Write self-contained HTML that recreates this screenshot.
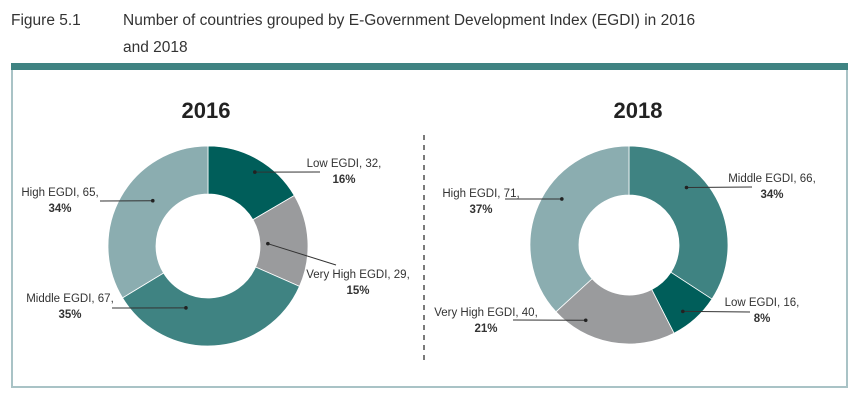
<!DOCTYPE html>
<html><head><meta charset="utf-8">
<style>
body{margin:0;background:#fff;width:858px;height:402px;overflow:hidden;font-family:"Liberation Sans",sans-serif;}
svg text{font-family:"Liberation Sans",sans-serif;}
</style></head>
<body>
<svg width="858" height="402" viewBox="0 0 858 402" xmlns="http://www.w3.org/2000/svg">
<text x="11" y="25" font-size="15.5" fill="#333">Figure 5.1</text>
<text x="123" y="25" font-size="15.5" fill="#333">Number of countries grouped by E-Government Development Index (EGDI) in 2016</text>
<text x="123" y="52" font-size="15.5" fill="#333">and 2018</text>
<rect x="12" y="67" width="835" height="320" fill="none" stroke="#a9c3c6" stroke-width="2"/>
<rect x="11" y="63" width="837" height="7" fill="#3f8382"/>
<line x1="424" y1="135" x2="424" y2="362" stroke="#222" stroke-width="1.2" stroke-dasharray="5,5"/>
<text x="206" y="118" font-size="22" font-weight="bold" text-anchor="middle" fill="#222">2016</text>
<text x="638" y="118" font-size="22" font-weight="bold" text-anchor="middle" fill="#222">2018</text>
<g id="d2016"></g><g id="d2018"></g>
</svg>
<script>
const categories2016 = ["Low EGDI","Very High EGDI","Middle EGDI","High EGDI"];
const values2016 = [32,29,67,65];
const pct2016 = ["16%","15%","35%","34%"];
const categories2018 = ["Middle EGDI","Low EGDI","Very High EGDI","High EGDI"];
const values2018 = [66,16,40,71];
const pct2018 = ["34%","8%","21%","37%"];
const colorMap = {"Low EGDI":"#005e5a","Very High EGDI":"#9a9b9d","Middle EGDI":"#3f8382","High EGDI":"#8badb0"};
const NS="http://www.w3.org/2000/svg";
function arc(cx,cy,ro,ri,a0,a1){
  const p=(r,a)=>[cx+r*Math.sin(a),cy-r*Math.cos(a)];
  const lg=(a1-a0)>Math.PI?1:0;
  const [x0,y0]=p(ro,a0),[x1,y1]=p(ro,a1),[x2,y2]=p(ri,a1),[x3,y3]=p(ri,a0);
  return `M${x0},${y0}A${ro},${ro} 0 ${lg} 1 ${x1},${y1}L${x2},${y2}A${ri},${ri} 0 ${lg} 0 ${x3},${y3}Z`;
}
function donut(gid,cats,vals,cx,cy,ro,ri,year,labels){
  const g=document.getElementById(gid);
  const tot=vals.reduce((a,b)=>a+b,0);
  let a=0;
  cats.forEach((c,i)=>{
    const a1=a+vals[i]/tot*2*Math.PI;
    const path=document.createElementNS(NS,"path");
    path.setAttribute("d",arc(cx,cy,ro,ri,a,a1));
    path.setAttribute("fill",colorMap[c]);
    path.setAttribute("stroke","#fff");
    path.setAttribute("stroke-width","0.8");
    
    
    g.appendChild(path);
    const L=labels[i];
    const am=(a+a1)/2, rm=(ro+ri)/2;
    const px=cx+rm*Math.sin(am)+L.dx, py=cy-rm*Math.cos(am)+L.dy;
    const ln=document.createElementNS(NS,"line");
    ln.setAttribute("x1",px);ln.setAttribute("y1",py);ln.setAttribute("x2",L.lx);ln.setAttribute("y2",L.ly);
    ln.setAttribute("stroke","#333");ln.setAttribute("stroke-width","1");
    
    
    g.appendChild(ln);
    const dot=document.createElementNS(NS,"circle");
    dot.setAttribute("cx",px);dot.setAttribute("cy",py);dot.setAttribute("r","1.8");dot.setAttribute("fill","#222");
    
    
    g.appendChild(dot);
    const t=document.createElementNS(NS,"text");
    t.setAttribute("x",L.tx);t.setAttribute("y",L.ty);t.setAttribute("font-size","11.5");t.setAttribute("fill","#333");t.setAttribute("text-anchor","middle");
    
    
    const s1=document.createElementNS(NS,"tspan");s1.setAttribute("x",L.tx);s1.textContent=c+", "+vals[i]+",";
    const s2=document.createElementNS(NS,"tspan");s2.setAttribute("x",L.tx);s2.setAttribute("dy","16");s2.setAttribute("font-weight","bold");
    s2.textContent=(year==="2016"?pct2016:pct2018)[i];
    t.appendChild(s1);t.appendChild(s2);g.appendChild(t);
    a=a1;
  });
}
donut("d2016",categories2016,values2016,208,246,100,52,"2016",[
 {dx:9,dy:-8,lx:320,ly:172,tx:344,ty:167},
 {dx:-16,dy:2,lx:336,ly:265,tx:358,ty:278},
 {dx:-27,dy:-14,lx:112,ly:308,tx:70,ty:302},
 {dx:11,dy:-8,lx:100,ly:201,tx:60,ty:196}]);
donut("d2018",categories2018,values2018,629,245,99,50,"2018",[
 {dx:-8,dy:-22,lx:752,ly:187,tx:772,ty:182},
 {dx:4,dy:11,lx:750,ly:312,tx:762,ty:306},
 {dx:-30,dy:2,lx:513,ly:320,tx:486,ty:316},
 {dx:1,dy:-16,lx:505,ly:199,tx:481,ty:197}]);
</script>
</body></html>
